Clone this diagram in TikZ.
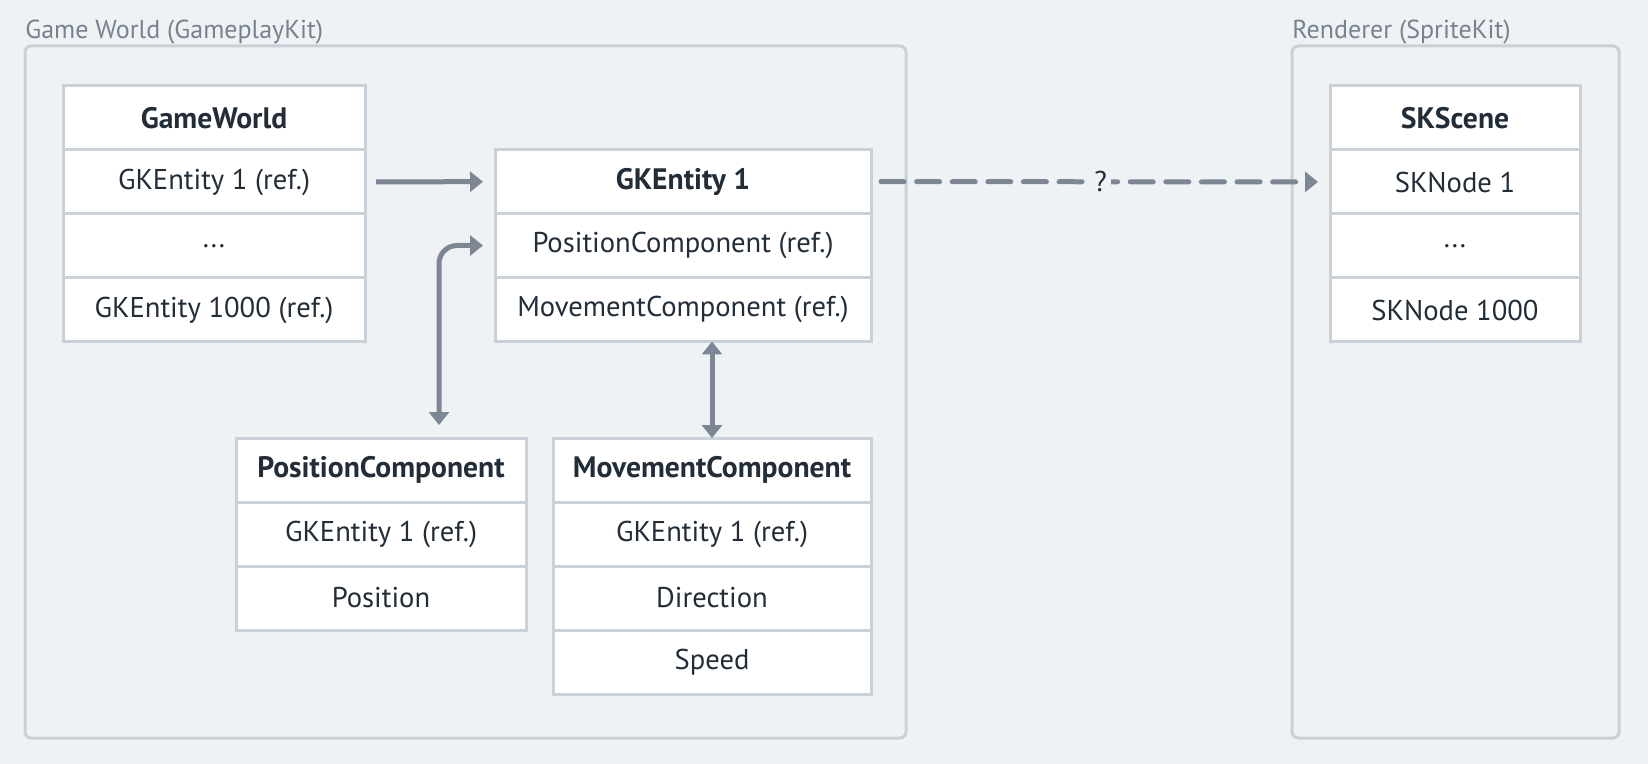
\documentclass[tikz,border=0pt]{standalone}
\usepackage{fontspec}
\setmainfont{PT Sans}
\usetikzlibrary{positioning,arrows.meta}

\definecolor{bgcol}{HTML}{EFF2F5}
\definecolor{groupline}{HTML}{C9D0D8}
\definecolor{tableline}{HTML}{C9D0D8}
\definecolor{arrowcol}{HTML}{7D8794}
\definecolor{textcol}{HTML}{222D38}
\definecolor{titlecol}{HTML}{77828E}

\begin{document}
\begin{tikzpicture}[x=0.5pt,y=-0.5pt,
  row/.style={draw=tableline,line width=1.5pt,fill=white,minimum height=32pt,
    outer sep=0pt,inner sep=0pt,text=textcol,font=\fontsize{14.3}{16}\selectfont},
  head/.style={row,font=\fontsize{14.8}{16}\selectfont\bfseries},
  group/.style={draw=groupline,line width=1.5pt,rounded corners=3pt},
  grouplabel/.style={anchor=west,inner sep=0pt,text=titlecol,font=\fontsize{13}{15}\selectfont},
  arr/.style={draw=arrowcol,line width=2.5pt,-{Triangle[length=6.5pt,width=10pt]}},
  biarr/.style={draw=arrowcol,line width=2.5pt,{Triangle[length=6.5pt,width=10pt]}-{Triangle[length=6.5pt,width=10pt]}},
  dasharr/.style={arr,line cap=round,dash pattern=on 11.5pt off 6.3pt},
  qmark/.style={fill=bgcol,inner sep=2pt,text=textcol,font=\fontsize{14.3}{16}\selectfont}]
% background and bounding box
\fill[bgcol] (0,0) rectangle (1648,764);
% groups
\draw[group] (25,46) rectangle (906,738);
\draw[group] (1292,46) rectangle (1619,738);
\node[grouplabel] (worldlabel) at (25,32) {Game World (GameplayKit)};
\node[grouplabel] (renderlabel) at (1292,32) {Renderer (SpriteKit)};
% GameWorld table
\node[head,minimum width=151pt] (gwhead) at (214,118) {GameWorld};
\node[row,minimum width=151pt,below=0pt of gwhead] (gwent1) {GKEntity 1 (ref.)};
\node[row,minimum width=151pt,below=0pt of gwent1] (gwdots) {...};
\node[row,minimum width=151pt,below=0pt of gwdots] (gwentn) {GKEntity 1000 (ref.)};
% GKEntity 1 table
\node[head,minimum width=188pt] (enthead) at (683,181.5) {GKEntity 1};
\node[row,minimum width=188pt,below=0pt of enthead] (entpos) {PositionComponent (ref.)};
\node[row,minimum width=188pt,below=0pt of entpos] (entmov) {MovementComponent (ref.)};
% component tables
\node[head,minimum width=145pt] (poshead) at (381,470) {PositionComponent};
\node[row,minimum width=145pt,below=0pt of poshead] (posent) {GKEntity 1 (ref.)};
\node[row,minimum width=145pt,below=0pt of posent] (posval) {Position};
\node[head,minimum width=159pt] (movhead) at (712,470) {MovementComponent};
\node[row,minimum width=159pt,below=0pt of movhead] (movent) {GKEntity 1 (ref.)};
\node[row,minimum width=159pt,below=0pt of movent] (movdir) {Direction};
\node[row,minimum width=159pt,below=0pt of movdir] (movspeed) {Speed};
% SKScene table
\node[head,minimum width=125pt] (skhead) at (1455,118) {SKScene};
\node[row,minimum width=125pt,below=0pt of skhead] (sknode1) {SKNode 1};
\node[row,minimum width=125pt,below=0pt of sknode1] (skdots) {...};
\node[row,minimum width=125pt,below=0pt of skdots] (sknoden) {SKNode 1000};
% connectors
\draw[arr,shorten <=5.5pt,shorten >=6pt] (gwent1) -- (enthead);
\draw[biarr,rounded corners=9pt,shorten <=6.5pt,shorten >=6pt] ([xshift=29pt]poshead.north) |- (entpos.west);
\draw[biarr] (movhead.north) -- (movhead.north |- entmov.south);
\draw[dasharr,shorten <=5pt,shorten >=6pt] (enthead) -- node[qmark] (qlabel) {?} (sknode1);
\end{tikzpicture}
\end{document}
